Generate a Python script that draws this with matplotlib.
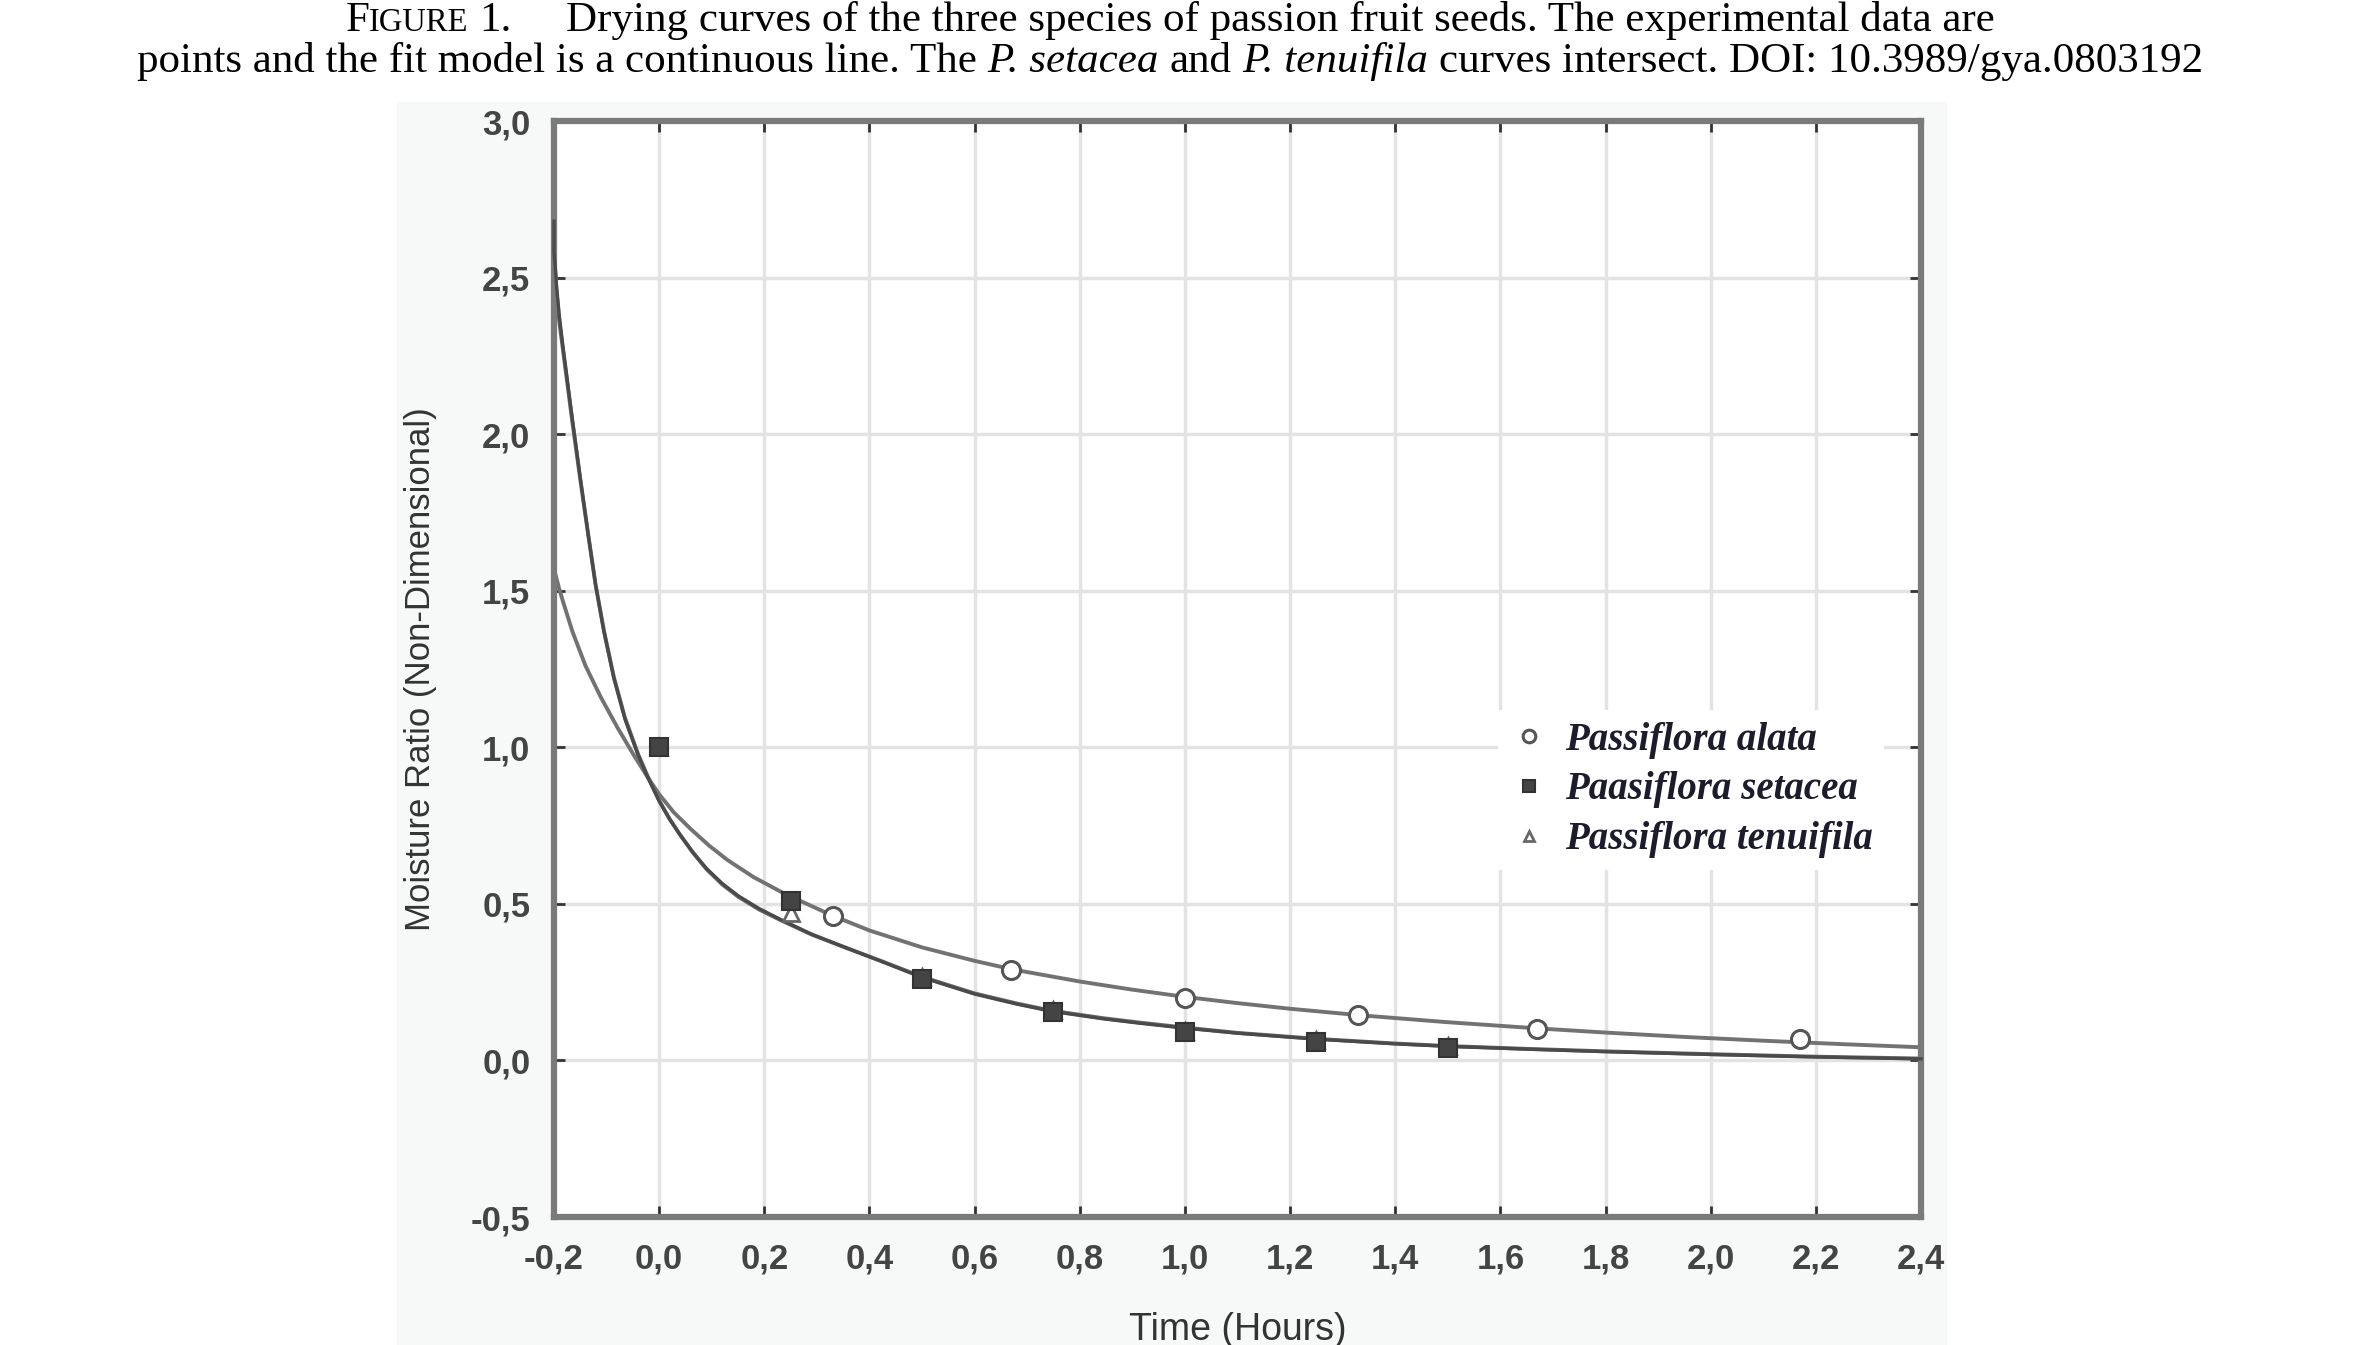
import matplotlib
matplotlib.use("Agg")
import matplotlib.pyplot as plt
from matplotlib.patches import Rectangle
from matplotlib.ticker import MultipleLocator, FuncFormatter
from matplotlib.font_manager import FontProperties

# measured points (hours, moisture ratio)
alata_t = [0.33, 0.67, 1.0, 1.33, 1.67, 2.17]
alata_mr = [0.46, 0.29, 0.20, 0.145, 0.10, 0.07]
setacea_t = [0.0, 0.25, 0.5, 0.75, 1.0, 1.25, 1.5]
setacea_mr = [1.0, 0.51, 0.26, 0.155, 0.09, 0.06, 0.04]
tenuifila_t = [0.0, 0.25, 0.5, 0.75, 1.0, 1.25, 1.5]
tenuifila_mr = [1.0, 0.47, 0.265, 0.16, 0.095, 0.065, 0.045]

# fitted model curves
alata_fit_t = [-0.2, -0.19, -0.18, -0.165, -0.14, -0.111, -0.08, -0.0475, -0.022, 0.0, 0.028,
               0.06, 0.095, 0.13, 0.18, 0.239, 0.329, 0.4, 0.5, 0.6, 0.671, 0.8, 0.9, 1.0, 1.1,
               1.2, 1.335, 1.5, 1.674, 1.8, 1.95, 2.1, 2.25, 2.4]
alata_fit_mr = [1.57, 1.505, 1.45, 1.37, 1.26, 1.16, 1.065, 0.973, 0.905, 0.85, 0.792,
                0.739, 0.686, 0.64, 0.585, 0.532, 0.463, 0.415, 0.361, 0.318, 0.291, 0.252, 0.226,
                0.203, 0.183, 0.165, 0.144, 0.122, 0.102, 0.089, 0.075, 0.063, 0.052, 0.042]
setacea_fit_t = [-0.2, -0.2, -0.198, -0.195, -0.19, -0.183, -0.176, -0.166, -0.15, -0.135, -0.121,
                 -0.105, -0.086, -0.065, -0.04, -0.022, 0.0, 0.02, 0.04, 0.064, 0.09, 0.12,
                 0.151, 0.19, 0.231, 0.29, 0.355, 0.42, 0.5, 0.6, 0.68, 0.746, 0.844, 0.913,
                 1.0, 1.1, 1.25, 1.4, 1.5, 1.65, 1.8, 2.0, 2.2, 2.4]
setacea_fit_mr = [2.68, 2.58, 2.54, 2.47, 2.38, 2.28, 2.19, 2.06, 1.86, 1.68, 1.52,
                  1.37, 1.22, 1.09, 0.975, 0.905, 0.828, 0.77, 0.72, 0.665, 0.613, 0.565,
                  0.525, 0.485, 0.45, 0.403, 0.36, 0.318, 0.265, 0.212, 0.18, 0.157, 0.133, 0.119,
                  0.103, 0.087, 0.068, 0.053, 0.045, 0.036, 0.028, 0.019, 0.011, 0.005]
tenuifila_fit_t = [-0.2, -0.198, -0.195, -0.19, -0.183, -0.176, -0.166, -0.15, -0.135, -0.121,
                   -0.105, -0.086, -0.065, -0.04, -0.022, 0.0, 0.02, 0.04, 0.064, 0.09, 0.12,
                   0.151, 0.19, 0.231, 0.29, 0.355, 0.42, 0.5, 0.6, 0.68, 0.746, 0.844, 0.913,
                   1.0, 1.1, 1.25, 1.4, 1.5, 1.65, 1.8, 2.0, 2.2, 2.4]
tenuifila_fit_mr = [2.64, 2.53, 2.45, 2.36, 2.27, 2.18, 2.05, 1.855, 1.68, 1.52,
                    1.372, 1.223, 1.094, 0.978, 0.908, 0.83, 0.771, 0.72, 0.664, 0.611, 0.562,
                    0.522, 0.482, 0.448, 0.402, 0.36, 0.319, 0.267, 0.214, 0.182, 0.159, 0.135, 0.121,
                    0.105, 0.088, 0.069, 0.054, 0.046, 0.037, 0.029, 0.02, 0.012, 0.006]

W, H = 2358, 1345
fig = plt.figure(figsize=(W / 100, H / 100), dpi=100)
fig.patch.set_facecolor('white')
# light panel behind the pasted chart
fig.patches.append(Rectangle((397 / W, 0), 1550 / W, 1 - 102 / H, transform=fig.transFigure,
                             facecolor='#f7f8f8', edgecolor='none', zorder=-5))

SANS = 'Liberation Sans'
SERIF = 'Liberation Serif'

ax = fig.add_axes([554 / W, 1 - 1217 / H, 1367 / W, 1096 / H])
ax.set_facecolor('white')

ax.plot(alata_fit_t, alata_fit_mr, color='#727272', lw=2.8, zorder=2)
ax.plot(tenuifila_fit_t, tenuifila_fit_mr, color='#6c6c6c', lw=2.8, zorder=2)
ax.plot(setacea_fit_t, setacea_fit_mr, color='#4a4a4a', lw=2.4, zorder=3, clip_on=False)

ax.plot(alata_t, alata_mr, ls='none', marker='o', ms=13, mfc='white', mec='#555555', mew=2.2,
        zorder=4, label='Passiflora alata')
ax.plot(setacea_t, setacea_mr, ls='none', marker='s', ms=12.5, mfc='#444444', mec='#333333', mew=1.5,
        zorder=4, label='Paasiflora setacea')
ax.plot(tenuifila_t, tenuifila_mr, ls='none', marker='^', ms=11, mfc='white', mec='#666666', mew=2,
        zorder=3, label='Passiflora tenuifila')

ax.set_xlim(-0.2, 2.4)
ax.set_ylim(-0.5, 3.0)
ax.xaxis.set_major_locator(MultipleLocator(0.2))
ax.yaxis.set_major_locator(MultipleLocator(0.5))


def comma(v, pos):
    if abs(v) < 1e-9:
        v = 0.0
    return f"{v:.1f}".replace('.', ',')


ax.xaxis.set_major_formatter(FuncFormatter(comma))
ax.yaxis.set_major_formatter(FuncFormatter(comma))
ax.tick_params(direction='in', length=8, width=2, color='#333333', top=True, right=True,
               labelsize=25, labelcolor='#444444')
ax.tick_params(axis='x', pad=18)
ax.tick_params(axis='y', pad=17)
for lab in ax.get_xticklabels() + ax.get_yticklabels():
    lab.set_fontfamily(SANS)
    lab.set_fontweight('bold')

ax.grid(True, color='#e3e3e3', linewidth=2.5)
ax.set_axisbelow(True)
for sp in ax.spines.values():
    sp.set_color('#7a7a7a')
    sp.set_linewidth(4.5)

ax.set_xlabel('Time (Hours)', fontsize=27, family=SANS, color='#333333')
ax.set_ylabel('Moisture Ratio (Non-Dimensional)', fontsize=25, family=SANS, color='#333333')
ax.xaxis.set_label_coords(0.5, -0.103)
ax.xaxis.label.set_va('center')
ax.yaxis.set_label_coords(-0.098, 0.5)
ax.yaxis.label.set_va('center')

leg = ax.legend(loc='upper left', bbox_to_anchor=(0.6906, 0.4626), borderaxespad=0,
                prop=FontProperties(family=SERIF, style='italic', weight='bold', size=28),
                frameon=True, facecolor='white', edgecolor='none', framealpha=1, fancybox=False,
                borderpad=0.3, handlelength=1.0, handletextpad=0.42, labelspacing=0.33,
                markerscale=0.7)
for t in leg.get_texts():
    t.set_color('#1c1c2c')

# caption, composed from pieces so that small caps and italics can be mixed
renderer = fig.canvas.get_renderer()


def space_w(size, style):
    a = fig.text(0, 0, 'n n', fontsize=size, style=style, family=SERIF)
    b = fig.text(0, 0, 'nn', fontsize=size, style=style, family=SERIF)
    w = a.get_window_extent(renderer).width - b.get_window_extent(renderer).width
    a.remove()
    b.remove()
    return w


def caption_line(parts, ybase, xcenter):
    items = []
    for s, size, style in parts:
        if s.strip() == '':
            items.append((None, len(s) * space_w(size, style)))
        else:
            t = fig.text(0, ybase, s, fontsize=size, style=style, family=SERIF,
                         va='baseline', ha='left', color='black')
            items.append((t, t.get_window_extent(renderer).width))
    total = sum(w for _, w in items)
    x = xcenter * W - total / 2
    for t, w in items:
        if t is not None:
            t.set_x(x / W)
        x += w


FS = 31
caption_line([('F', FS, 'normal'), ('IGURE', 23.5, 'normal'), (' ', FS, 'normal'), ('1.', FS, 'normal'),
              ('     ', FS, 'normal'),
              ('Drying curves of the three species of passion fruit seeds. The experimental data are', FS, 'normal')],
             1 - 31 / H, 1170 / W)
caption_line([('points and the fit model is a continuous line. The', FS, 'normal'), (' ', FS, 'normal'),
              ('P. setacea', FS, 'italic'), (' ', FS, 'normal'), ('and', FS, 'normal'), (' ', FS, 'normal'),
              ('P. tenuifila', FS, 'italic'), (' ', FS, 'normal'),
              ('curves intersect. DOI: 10.3989/gya.0803192', FS, 'normal')],
             1 - 72 / H, 1170 / W)

fig.savefig('out.png', dpi=100, facecolor=fig.get_facecolor())
